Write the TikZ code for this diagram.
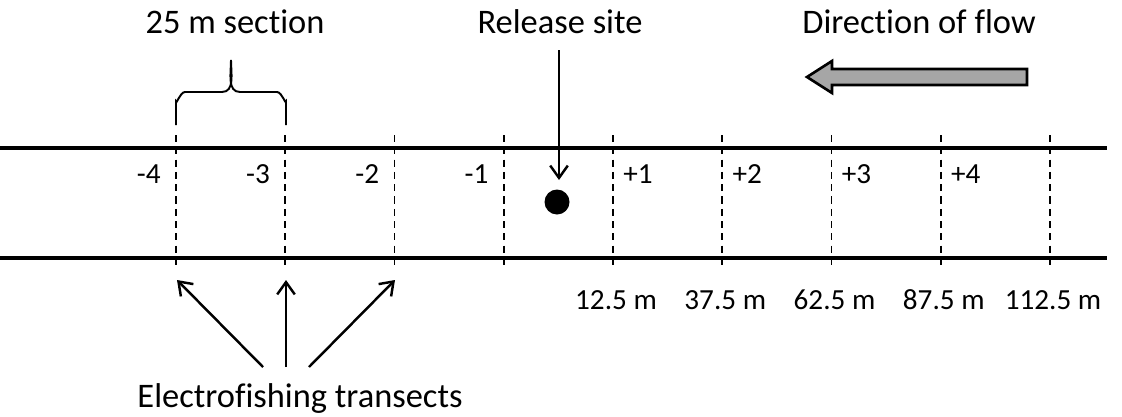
\documentclass[tikz,border=0pt]{standalone}
\usepackage{fontspec}
\setmainfont{Carlito}[Ligatures=NoCommon]
\usetikzlibrary{arrows.meta}

\tikzset{
  biglabel/.style={font=\fontsize{19.6}{22}\selectfont, inner sep=0pt},
  smalllabel/.style={font=\fontsize{16.6}{19}\selectfont, inner sep=0pt},
  bank/.style={line width=1.8pt},
  transect/.style={line width=1.1pt, dash pattern=on 4pt off 3pt},
  pointer/.style={line width=1.4pt, -{Straight Barb[length=7pt,width=10pt]}},
}

\begin{document}
\begin{tikzpicture}[x=0.02cm, y=-0.02cm]
		%%%%% START %%%%%
		\useasboundingbox (0, 0) rectangle (1122, 416);
		
		% stream banks
		\coordinate (ul) at (0, 148);
		\coordinate (ur) at (1107, 148);
		\coordinate (ll) at (0, 258);
		\coordinate (lr) at (1107, 258);
		\draw[bank] (ul) -- (ur);
		\draw[bank] (ll) -- (lr);
		
		% section boundaries
		\foreach \i in {0,...,8} {
			\coordinate (d\i) at ({176+109.25*\i}, 135);
			\coordinate (b\i) at ({176+109.25*\i}, 269);
			\draw[transect] (d\i) -- (b\i);
		}
		
		% section numbers
		\foreach \i/\t in {0/-4, 1/-3, 2/-2, 3/-1} {
			\node[smalllabel, anchor=base east] (s\i) at ([xshift=-15*0.02cm, yshift=-48*0.02cm]d\i) {\t};
		}
		\foreach \i/\t in {4/+1, 5/+2, 6/+3, 7/+4} {
			\node[smalllabel, anchor=base west] (s\i) at ([xshift=10*0.02cm, yshift=-48*0.02cm]d\i) {\t};
		}
		
		% distances
		\foreach \i/\t in {4/12.5, 5/37.5, 6/62.5, 7/87.5, 8/112.5} {
			\node[smalllabel, anchor=base] (m\i) at ([xshift=3*0.02cm, yshift=-40*0.02cm]b\i) {\t~m};
		}
		
		% release site
		\node[biglabel, anchor=base] (rel) at (560, 33) {Release site};
		\node[circle, fill=black, minimum size=25*0.02cm, inner sep=0pt] (dot) at (557, 202) {};
		\coordinate (relstart) at (559, 50);
		\coordinate (relend) at (559, 180);
		\draw[pointer] (relstart) -- (relend);
		
		% 25 m section
		\node[biglabel, anchor=base] (sec) at (235, 33) {25 m section};
		\draw[line width=1.1pt] (176, 125) -- (176, 101) to[out=-90, in=180] (185, 92) -- (222, 92)
			to[out=0, in=-90] (231, 60) to[out=-90, in=180] (240, 92) -- (277, 92)
			to[out=0, in=-90] (286, 101) -- (286, 125);
		
		% direction of flow
		\node[biglabel, anchor=base] (dir) at (919, 33) {Direction of flow};
		\draw[line width=1.5pt, fill=black!35, line join=miter]
			(1027, 69) -- (832, 69) -- (832, 61) -- (807, 77) -- (832, 93) -- (832, 85) -- (1027, 85) -- cycle;
		
		% electrofishing transects
		\node[biglabel, anchor=base] (efish) at (300, 407) {Electrofishing transects};
		\coordinate (e0) at (263, 367);
		\coordinate (e1) at (286, 367);
		\coordinate (e2) at (309, 367);
		\coordinate (a0) at (177, 280);
		\coordinate (a1) at (286, 280);
		\coordinate (a2) at (395, 280);
		\draw[pointer] (e0) -- (a0);
		\draw[pointer] (e1) -- (a1);
		\draw[pointer] (e2) -- (a2);
		
		%%%%% END %%%%%
	\end{tikzpicture}
\end{document}
